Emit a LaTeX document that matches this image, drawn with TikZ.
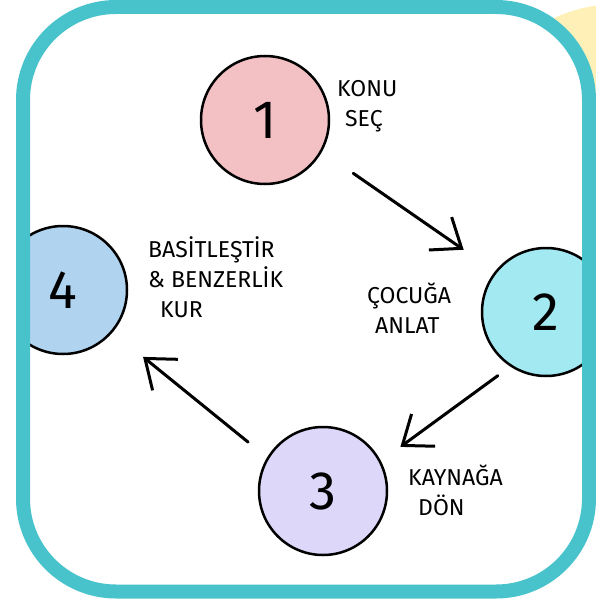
\documentclass[tikz,border=0pt]{standalone}
\usepackage{fontspec}
\setmainfont{Fira Sans}
\usetikzlibrary{positioning,arrows.meta,calc}
\definecolor{frameteal}{RGB}{73,195,203}
\definecolor{sunyellow}{RGB}{255,240,184}
\definecolor{stagepink}{RGB}{243,193,195}
\definecolor{stagecyan}{RGB}{162,233,242}
\definecolor{stagelilac}{RGB}{221,216,250}
\definecolor{stageblue}{RGB}{176,212,240}
\tikzset{
    x=1pt,
    y=-1pt,
    stage/.style = {
        draw,
        shape=circle,
        minimum size=128pt,
        inner sep=0pt,
        line width=2.5pt,
        font=\fontsize{54}{54}\selectfont
    },
    caption/.style = {
        align=left,
        inner sep=0pt,
        anchor=north west,
        font=\fontsize{23}{30}\selectfont
    },
    flow/.style = {
        draw,
        line width=3pt,
        line cap=round,
        ->
    },
    >={Straight Barb[length=26pt,width=40pt]},
}

\begin{document}
\begin{tikzpicture}
    \useasboundingbox (0,0) rectangle (595,607);

    % sun behind the frame
    \path[fill=sunyellow] (618,156) circle[radius=152];
    \path[fill=white, rounded corners=93pt] (23,7) rectangle (589,591.5);

    \begin{scope}
        \clip[rounded corners=93pt] (23,7) rectangle (589,591.5);
        \node[stage, fill=stagepink] (one) at (265,120) {1};
        \node[stage, fill=stagecyan] (two) at (546,312) {2};
        \node[stage, fill=stagelilac] (three) at (323,491) {3};
        \node[stage, fill=stageblue] (four) at (63,290) {4};
    \end{scope}

    \path[flow] ($(one)!0.314!(two)+(0,-7)$) -- ($(one)!0.707!(two)+(0,-6)$);
    \path[flow] ($(two)!0.216!(three)+(0,25)$) -- ($(two)!0.653!(three)+(0,18)$);
    \path[flow] ($(three)!0.288!(four)+(0,9)$) -- ($(three)!0.692!(four)+(0,5)$);

    \node[caption] (topic) at (337,80) {KONU\\\hspace*{8pt}SEÇ};
    \node[caption] (explain) at (367,283) {ÇOCUĞA\\\hspace*{8pt}ANLAT};
    \node[caption] (source) at (408,465) {KAYNAĞA\\\hspace*{10pt}DÖN};
    \node[caption] (simplify) at (148,236) {BASİTLEŞTİR\\\& BENZERLİK\\\hspace*{12pt}KUR};

    \path[draw, frameteal, line width=14pt, rounded corners=93pt] (23,7) rectangle (589,591.5);
\end{tikzpicture}
\end{document}
